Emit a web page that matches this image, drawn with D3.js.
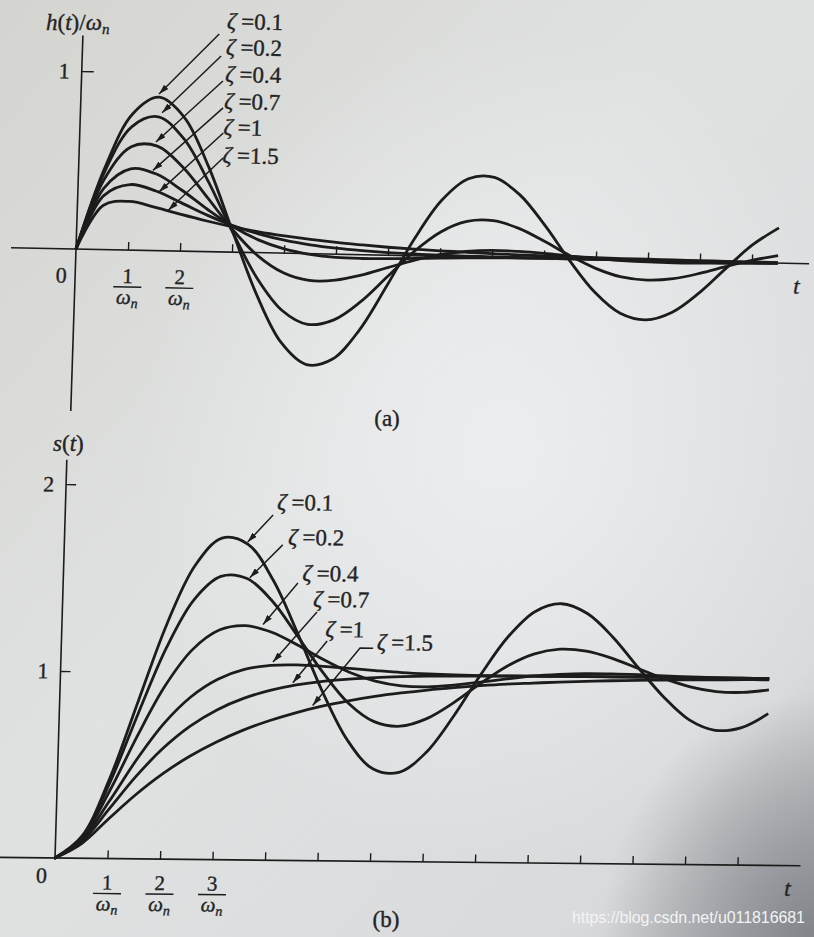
<!DOCTYPE html>
<html>
<head>
<meta charset="utf-8">
<script src="https://cdn.jsdelivr.net/npm/d3@7"></script>
<style>
  body { margin: 0; background: #d8d9d7; }
  svg { display: block; }
  text { font-family: "Liberation Serif", "Times New Roman", serif; fill: #232323; }
  .ink-text { stroke: #232323; stroke-width: 0.35; }
</style>
</head>
<body>
<div id="chart"></div>
<script>
// time axis, in units of 1/ωn
const tValues = [0, 0.5, 1, 1.5, 2, 2.5, 3, 3.5, 4, 4.5, 5, 5.5, 6, 6.5, 7, 7.5, 8, 8.5, 9, 9.5, 10, 10.5, 11, 11.5, 12, 12.5, 13, 13.5];
const zetaLabels = ["0.1", "0.2", "0.4", "0.7", "1", "1.5"];
const xTicks = [1, 2, 3, 4, 5, 6, 7, 8, 9, 10, 11, 12, 13];

// (a) impulse response h(t)/ωn
const impulse01 = [0, 0.456, 0.763, 0.862, 0.752, 0.476, 0.116, -0.236, -0.502, -0.623, -0.589, -0.422, -0.170, 0.096, 0.315, 0.439, 0.449, 0.354, 0.185, -0.011, -0.185, -0.300, -0.334, -0.288, -0.178, -0.037, 0.099, 0.198];
const impulse02 = [0, 0.435, 0.694, 0.752, 0.633, 0.395, 0.112, -0.144, -0.322, -0.397, -0.369, -0.265, -0.121, 0.024, 0.137, 0.199, 0.206, 0.166, 0.096, 0.018, -0.050, -0.095, -0.110, -0.099, -0.067, -0.026, 0.013, 0.042];
const impulse04 = [0, 0.395, 0.581, 0.587, 0.473, 0.302, 0.126, -0.018, -0.110, -0.150, -0.146, -0.115, -0.070, -0.026, 0.009, 0.030, 0.039, 0.036, 0.028, 0.016, 0.005, -0.003, -0.008, -0.010, -0.009, -0.007, -0.004, -0.001];
const impulse07 = [0, 0.345, 0.456, 0.430, 0.342, 0.238, 0.144, 0.072, 0.024, -0.004, -0.018, -0.021, -0.019, -0.015, -0.010, -0.006, -0.003, -0.001, 0, 0, 0, 0, 0, 0, 0, 0, 0, 0];
const impulse1 = [0, 0.303, 0.368, 0.335, 0.271, 0.205, 0.149, 0.106, 0.073, 0.050, 0.034, 0.023, 0.015, 0.010, 0.006, 0.004, 0.003, 0.002, 0.001, 0.001, 0, 0, 0, 0, 0, 0, 0, 0];
const impulse15 = [0, 0.249, 0.273, 0.243, 0.206, 0.172, 0.142, 0.117, 0.097, 0.080, 0.066, 0.055, 0.045, 0.037, 0.031, 0.026, 0.021, 0.017, 0.014, 0.012, 0.010, 0.008, 0.007, 0.006, 0.005, 0.004, 0.003, 0.003];

// (b) step response s(t)
const step01 = [0, 0.118, 0.431, 0.846, 1.258, 1.571, 1.720, 1.688, 1.497, 1.211, 0.904, 0.647, 0.495, 0.477, 0.583, 0.776, 1.003, 1.207, 1.344, 1.388, 1.337, 1.212, 1.050, 0.895, 0.774, 0.720, 0.736, 0.812];
const step02 = [0, 0.115, 0.405, 0.775, 1.128, 1.388, 1.515, 1.505, 1.384, 1.198, 1.006, 0.844, 0.747, 0.724, 0.766, 0.852, 0.956, 1.051, 1.117, 1.145, 1.136, 1.099, 1.046, 0.993, 0.951, 0.927, 0.924, 0.939];
const step04 = [0, 0.108, 0.360, 0.658, 0.927, 1.122, 1.228, 1.253, 1.219, 1.152, 1.076, 1.010, 0.964, 0.940, 0.936, 0.947, 0.964, 0.983, 1.000, 1.010, 1.016, 1.016, 1.013, 1.008, 1.004, 1.000, 0.997, 0.996];
const step07 = [0, 0.098, 0.306, 0.531, 0.726, 0.870, 0.965, 1.019, 1.042, 1.046, 1.040, 1.030, 1.020, 1.011, 1.005, 1.001, 0.999, 0.999, 0.999, 1.000, 1.000, 1.000, 1.000, 1.000, 1.000, 1.000, 1.000, 1.000];
const step1 = [0, 0.090, 0.264, 0.442, 0.594, 0.713, 0.801, 0.864, 0.908, 0.939, 0.960, 0.973, 0.983, 0.989, 0.993, 0.995, 0.997, 0.998, 0.999, 0.999, 1.000, 1.000, 1.000, 1.000, 1.000, 1.000, 1.000, 1.000];
const step15 = [0, 0.079, 0.213, 0.343, 0.456, 0.550, 0.628, 0.693, 0.746, 0.790, 0.827, 0.857, 0.882, 0.902, 0.919, 0.933, 0.945, 0.955, 0.962, 0.969, 0.974, 0.979, 0.982, 0.986, 0.988, 0.990, 0.992, 0.993];

const impulseSeries = [impulse01, impulse02, impulse04, impulse07, impulse1, impulse15];
const stepSeries = [step01, step02, step04, step07, step1, step15];

const W = 814, H = 937;
const ink = "#1c1c1c";

const svg = d3.select("#chart").append("svg")
  .attr("width", W)
  .attr("height", H);

const defs = svg.append("defs");

// paper photo background
const bg = defs.append("linearGradient").attr("id", "bg")
  .attr("x1", 0).attr("y1", 0).attr("x2", 1).attr("y2", 1);
bg.append("stop").attr("offset", "0%").attr("stop-color", "#d4d5d0");
bg.append("stop").attr("offset", "45%").attr("stop-color", "#e0e2e2");
bg.append("stop").attr("offset", "85%").attr("stop-color", "#d8dadc");
bg.append("stop").attr("offset", "100%").attr("stop-color", "#b4b6ba");

const glow = defs.append("radialGradient").attr("id", "glow")
  .attr("cx", "62%").attr("cy", "48%").attr("r", "45%");
glow.append("stop").attr("offset", "0%").attr("stop-color", "#f1f2f4").attr("stop-opacity", 0.75);
glow.append("stop").attr("offset", "100%").attr("stop-color", "#f1f2f4").attr("stop-opacity", 0);

const shade = defs.append("radialGradient").attr("id", "shade")
  .attr("cx", "100%").attr("cy", "100%").attr("r", "26%");
shade.append("stop").attr("offset", "0%").attr("stop-color", "#7c7f84").attr("stop-opacity", 0.9);
shade.append("stop").attr("offset", "100%").attr("stop-color", "#7c7f84").attr("stop-opacity", 0);

svg.append("rect").attr("width", W).attr("height", H).attr("fill", "url(#bg)");
svg.append("rect").attr("width", W).attr("height", H).attr("fill", "url(#glow)");
svg.append("rect").attr("width", W).attr("height", H).attr("fill", "url(#shade)");

defs.append("marker")
  .attr("id", "arrow")
  .attr("viewBox", "0 0 10 6")
  .attr("refX", 10).attr("refY", 3)
  .attr("markerWidth", 10).attr("markerHeight", 6)
  .attr("markerUnits", "userSpaceOnUse")
  .attr("orient", "auto")
  .append("path")
  .attr("d", "M0,0L10,3L0,6Z")
  .attr("fill", ink);

const panels = [
  {
    series: impulseSeries,
    ox: 76, oy: 249, rot: 1.15, skew: -0.7,
    unitX: 52, unitY: 178,
    xFrom: -1.25, xTo: 14.1, yFrom: -0.91, yTo: 1.2,
    yTicks: [1], yTickLen: 12,
    fracTicks: [1, 2], frac: {num: 33, bar: 37, den: 54},
    zero: [-14, 34], tLabel: [718, 30],
    annot: [
      {path: [[2.62, 1.224], [1.50, 0.88]], text: [2.76, 1.253]},
      {path: [[2.67, 1.10], [1.57, 0.775]], text: [2.76, 1.107]},
      {path: [[2.72, 0.96], [1.47, 0.61]], text: [2.76, 0.955]},
      {path: [[2.74, 0.809], [1.43, 0.45]], text: [2.76, 0.803]},
      {path: [[2.76, 0.668], [1.56, 0.33]], text: [2.76, 0.657]},
      {path: [[2.77, 0.528], [1.75, 0.228]], text: [2.76, 0.50]}
    ]
  },
  {
    series: stepSeries,
    ox: 55, oy: 858, rot: 0.6, skew: -1.1,
    unitX: 52.5, unitY: 187,
    xFrom: -1.05, xTo: 14.2, yFrom: -0.01, yTo: 2.13,
    yTicks: [1, 2], yTickLen: 10,
    fracTicks: [1, 2, 3], frac: {num: 31, bar: 35, den: 52},
    zero: [-13, 25], tLabel: [730, 30],
    annot: [
      {path: [[3.96, 1.846], [3.49, 1.70]], text: [4.03, 1.873]},
      {path: [[4.16, 1.687], [3.55, 1.51]], text: [4.26, 1.687]},
      {path: [[4.47, 1.484], [3.83, 1.26]], text: [4.55, 1.495]},
      {path: [[4.85, 1.33], [4.04, 1.06]], text: [4.77, 1.357]},
      {path: [[5.06, 1.176], [4.43, 0.95]], text: [5.02, 1.197]},
      {path: [[5.94, 1.14], [5.69, 1.14], [4.82, 0.83]], text: [6.01, 1.13]}
    ]
  }
];

panels.forEach(p => {
  const g = svg.append("g")
    .attr("transform", `translate(${p.ox},${p.oy}) rotate(${p.rot}) skewX(${p.skew})`);

  const x = d3.scaleLinear().domain([0, 13.5]).range([0, 13.5 * p.unitX]);
  const y = d3.scaleLinear().domain([0, 1]).range([0, -p.unitY]);

  // x axis: ticks point up, fraction labels under the first ones
  const xg = g.append("g")
    .call(d3.axisBottom(x).tickValues(xTicks).tickSize(-8).tickSizeOuter(0).tickFormat(""));
  xg.select(".domain").remove();
  xg.selectAll(".tick line").attr("stroke", ink).attr("stroke-width", 1.4);

  g.append("line")
    .attr("x1", x(p.xFrom)).attr("x2", x(p.xTo))
    .attr("y1", 0).attr("y2", 0)
    .attr("stroke", ink).attr("stroke-width", 1.6);

  xg.selectAll(".tick")
    .filter(d => p.fracTicks.includes(d))
    .each(function(d) {
      const tk = d3.select(this);
      tk.append("text")
        .attr("class", "ink-text")
        .attr("y", p.frac.num)
        .attr("text-anchor", "middle")
        .attr("font-size", 21)
        .text(d);
      tk.append("line")
        .attr("x1", -14).attr("x2", 14)
        .attr("y1", p.frac.bar).attr("y2", p.frac.bar)
        .attr("stroke", ink).attr("stroke-width", 1.4);
      const den = tk.append("text")
        .attr("class", "ink-text")
        .attr("y", p.frac.den)
        .attr("text-anchor", "middle")
        .attr("font-size", 21)
        .attr("font-style", "italic");
      den.append("tspan").text("ω");
      den.append("tspan").attr("font-size", 14).attr("dy", 4).text("n");
    });

  g.append("text")
    .attr("class", "ink-text")
    .attr("x", p.zero[0]).attr("y", p.zero[1])
    .attr("text-anchor", "middle")
    .attr("font-size", 22)
    .text("0");

  g.append("text")
    .attr("class", "ink-text")
    .attr("x", p.tLabel[0]).attr("y", p.tLabel[1])
    .attr("font-size", 23)
    .attr("font-style", "italic")
    .text("t");

  // y axis
  const yg = g.append("g")
    .call(d3.axisLeft(y).tickValues(p.yTicks).tickSize(-p.yTickLen).tickSizeOuter(0)
      .tickPadding(12).tickFormat(d3.format("d")));
  yg.select(".domain").remove();
  yg.selectAll(".tick line").attr("stroke", ink).attr("stroke-width", 1.4);
  yg.selectAll(".tick text").attr("class", "ink-text").attr("font-size", 22).attr("fill", "#232323");

  g.append("line")
    .attr("x1", 0).attr("x2", 0)
    .attr("y1", y(p.yFrom)).attr("y2", y(p.yTo))
    .attr("stroke", ink).attr("stroke-width", 1.6);

  // response curves
  const line = d3.line()
    .x((d, i) => x(tValues[i]))
    .y(d => y(d))
    .curve(d3.curveCatmullRom.alpha(0.5));

  g.selectAll(".curve")
    .data(p.series)
    .join("path")
    .attr("class", "curve")
    .attr("fill", "none")
    .attr("stroke", ink)
    .attr("stroke-width", 2.8)
    .attr("stroke-linejoin", "round")
    .attr("d", line);

  // ζ labels with arrows
  p.annot.forEach((a, i) => {
    g.append("path")
      .attr("d", d3.line()(a.path.map(([t, v]) => [x(t), y(v)])))
      .attr("fill", "none")
      .attr("stroke", ink)
      .attr("stroke-width", 1.5)
      .attr("marker-end", "url(#arrow)");
    const txt = g.append("text")
      .attr("class", "ink-text")
      .attr("x", x(a.text[0])).attr("y", y(a.text[1]))
      .attr("font-size", 23);
    txt.append("tspan").attr("font-style", "italic").text("ζ");
    txt.append("tspan").attr("dx", 5).text("=" + zetaLabels[i]);
  });
});

// axis titles and captions
const hLabel = svg.append("text").attr("class", "ink-text").attr("x", 46).attr("y", 30).attr("font-size", 23);
hLabel.append("tspan").attr("font-style", "italic").text("h");
hLabel.append("tspan").text("(");
hLabel.append("tspan").attr("font-style", "italic").text("t");
hLabel.append("tspan").text(")/");
hLabel.append("tspan").attr("font-style", "italic").text("ω");
hLabel.append("tspan").attr("font-style", "italic").attr("font-size", 15).attr("dy", 4).text("n");

const sLabel = svg.append("text").attr("class", "ink-text").attr("x", 53).attr("y", 451).attr("font-size", 23);
sLabel.append("tspan").attr("font-style", "italic").text("s");
sLabel.append("tspan").text("(");
sLabel.append("tspan").attr("font-style", "italic").text("t");
sLabel.append("tspan").text(")");

svg.append("text").attr("class", "ink-text").attr("x", 387).attr("y", 426).attr("text-anchor", "middle")
  .attr("font-size", 23).text("(a)");
svg.append("text").attr("class", "ink-text").attr("x", 386).attr("y", 927).attr("text-anchor", "middle")
  .attr("font-size", 23).text("(b)");

svg.append("text")
  .attr("x", 572).attr("y", 923)
  .attr("font-size", 16)
  .attr("textLength", 233)
  .style("font-family", "'Liberation Sans', Arial, sans-serif")
  .style("fill", "#f4f4f4")
  .text("https://blog.csdn.net/u011816681");
</script>
</body>
</html>
